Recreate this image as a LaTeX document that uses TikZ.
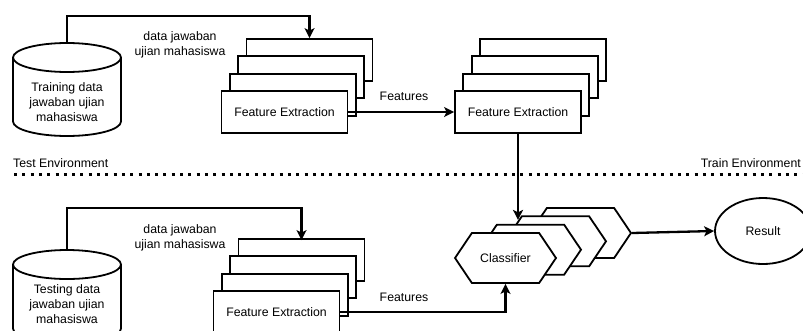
\documentclass[tikz,border=0pt]{standalone}
\usepackage{fontspec}
\usepackage{tikz}
\usetikzlibrary{positioning}
\usetikzlibrary{calc}
\usetikzlibrary{shapes,arrows.meta}
\usetikzlibrary{shadows}
\newfontfamily\diafont{Liberation Sans}
\newcommand{\lbl}{\diafont\fontsize{12.3}{15}\selectfont}
\tikzset{
    box/.style={
           rectangle,
           draw=black, line width=1.8pt,
           fill=white,
           minimum width=126pt,
           minimum height=42pt,
           inner sep=2pt,
           font=\lbl,
           },
    stack/.style={
           copy shadow={shadow xshift=25pt, shadow yshift=52pt, draw=black, fill=white},
           copy shadow={shadow xshift=16.7pt, shadow yshift=34.7pt, draw=black, fill=white},
           copy shadow={shadow xshift=8.3pt, shadow yshift=17.3pt, draw=black, fill=white},
           },
    hexstack/.style={
           copy shadow={shadow xshift=75pt, shadow yshift=25pt, draw=black, fill=white},
           copy shadow={shadow xshift=50pt, shadow yshift=16.7pt, draw=black, fill=white},
           copy shadow={shadow xshift=25pt, shadow yshift=8.3pt, draw=black, fill=white},
           },
    hex/.style={
           signal, signal to=east and west,
           signal pointer angle=112,
           draw=black, line width=1.8pt,
           fill=white,
           minimum width=101pt,
           minimum height=50pt,
           inner sep=0pt,
           font=\lbl,
           },
    db/.style={
           minimum width=108pt,
           minimum height=93pt,
           inner sep=0pt,
           align=center,
           font=\lbl,
           },
    dbline/.style={draw=black, line width=1.8pt},
    point/.style={
           ellipse,
           draw=black, line width=1.8pt,
           minimum width=96pt,
           minimum height=66pt,
           font=\lbl,
           },
    horiz/.style={
              inner sep=0pt,
              align=center,
              font=\lbl
                  },
    flow/.style={->, line width=2.3pt},
    sep/.style={line width=3pt, dash pattern=on 3pt off 5.3pt},
}
\begin{document}
\begin{tikzpicture}[x=1pt, y=-1pt, >={Stealth[length=10pt,width=10pt,inset=2.5pt]}]
  \useasboundingbox (0,0) rectangle (803,330);
     % train side
     \node[db] (train) at (67,102) {Training data\\jawaban ujian\\mahasiswa};
     \coordinate (traintop) at (67,43);
     \draw[dbline] (67,57.5) ellipse [x radius=54pt, y radius=14.5pt];
     \draw[dbline] (13,57.5) -- (13,121.5)
        arc[start angle=180, end angle=360, x radius=54pt, y radius=14.5pt] -- (121,57.5);
     \node[box,stack] (fexA) at (284.5,112) {Feature Extraction};
     \node[box,stack] (fexB) at (518,112)   {Feature Extraction};
     \node[horiz] (dataA) at (180,45)  {data jawaban\\ujian mahasiswa};
     \node[horiz] (featA) at (404,96)  {Features};
     % separator
     \node[horiz, anchor=west] (envtest)  at (13,163)  {Test Environment};
     \node[horiz, anchor=east] (envtrain) at (801,163) {Train Environment};
     \coordinate (sepL) at (14,174);
     \coordinate (sepR) at (803,174);
     % test side
     \node[db] (test) at (67,304) {Testing data\\jawaban ujian\\mahasiswa};
     \coordinate (testtop) at (67,250);
     \draw[dbline] (67,264.5) ellipse [x radius=54pt, y radius=14.5pt];
     \draw[dbline] (13,264.5) -- (13,328.5)
        arc[start angle=180, end angle=360, x radius=54pt, y radius=14.5pt] -- (121,264.5);
     \node[box,stack] (fexC) at (276.5,312) {Feature Extraction};
     \node[hex,hexstack] (clf) at (505.5,258) {Classifier};
     \node[point] (res)  at (763,231) {Result};
     \node[horiz] (dataB) at (180,238) {data jawaban\\ujian mahasiswa};
     \node[horiz] (featB) at (404,297) {Features};

     \draw[sep] (sepL) -- (sepR);
     \draw[flow] (traintop) -- ++(0,-27) -| ($(fexA.north)+(25,-52)$);
     \draw[flow] (fexA.east) -- (fexB.west);
     \draw[flow] (fexB.south) -- ++(0,86);
     \draw[flow] (testtop) -- ++(0,-42) -| ($(fexC.north)+(25,-50)$);
     \draw[flow] (fexC.east) -| (clf.south);
     \draw[flow] ($(clf.east)+(75,-25)$) -- (res.west);
  \end{tikzpicture}
\end{document}
